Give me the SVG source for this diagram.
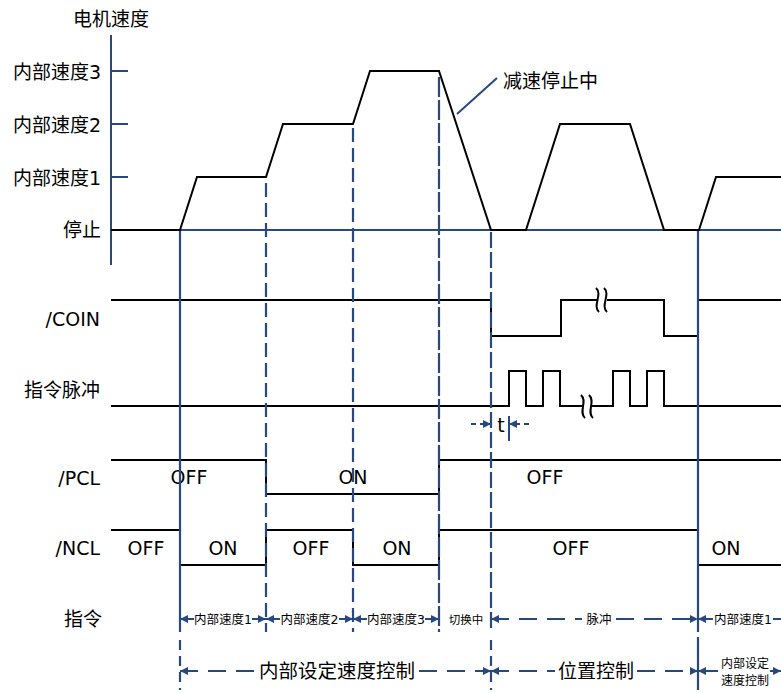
<svg xmlns="http://www.w3.org/2000/svg" width="781" height="693" viewBox="0 0 781 693">
<style>
.bg{fill:#ffffff}
.ax{stroke:#27497f;stroke-width:2;fill:none}
.sig{stroke:#000000;stroke-width:2;fill:none;stroke-linejoin:miter}
.vl{stroke:#27497f;stroke-width:2.2;fill:none}
.arr{stroke:#27497f;stroke-width:2;fill:none}
.lbl{font-family:"DejaVu Sans","Noto Sans CJK SC",sans-serif;font-size:19px;fill:#000000}
.cj{font-family:"Noto Sans CJK SC",sans-serif;font-size:19px;fill:#000000}
.sm{font-family:"DejaVu Sans","Noto Sans CJK SC",sans-serif;font-size:12.5px;fill:#000000}
</style>
<defs>
<marker id="ah" viewBox="0 0 8 8" refX="8" refY="4" markerWidth="8" markerHeight="8" markerUnits="userSpaceOnUse" orient="auto-start-reverse">
<path d="M0,0 L8,4 L0,8 z" fill="#27497f"/>
</marker>
</defs>
<rect class="bg" x="0" y="0" width="781" height="693"/>

<g id="axis">
<line class="ax" x1="111" y1="35" x2="111" y2="265"/>
<line class="ax" x1="111" y1="71" x2="128" y2="71"/>
<line class="ax" x1="111" y1="124" x2="128" y2="124"/>
<line class="ax" x1="111" y1="177" x2="128" y2="177"/>
<line class="ax" x1="111" y1="230" x2="781" y2="230"/>
<text class="cj" x="111" y="26" text-anchor="middle">电机速度</text>
<text class="lbl" x="101" y="79" text-anchor="end">内部速度3</text>
<text class="lbl" x="101" y="132" text-anchor="end">内部速度2</text>
<text class="lbl" x="101" y="185" text-anchor="end">内部速度1</text>
<text class="cj" x="101" y="237" text-anchor="end">停止</text>
</g>

<g id="speed-profile">
<path class="sig" d="M111,230 H180 L197,177 H266 L283,124 H353 L370,71 H439 L491,230 H526 L560,124 H630 L664,230 H699 L716,177 H781"/>
</g>

<g id="callout">
<line class="ax" x1="497" y1="78" x2="457" y2="114"/>
<text class="cj" x="503" y="88">减速停止中</text>
</g>

<g id="labels">
<text class="lbl" x="100" y="326" text-anchor="end">/COIN</text>
<text class="cj" x="100" y="397" text-anchor="end">指令脉冲</text>
<text class="lbl" x="100" y="485" text-anchor="end">/PCL</text>
<text class="lbl" x="100" y="555" text-anchor="end">/NCL</text>
<text class="cj" x="102" y="626" text-anchor="end">指令</text>
</g>

<g id="coin">
<path class="sig" d="M111,300 H491 V336 H561 V300 H597"/>
<path class="sig" d="M607,300 H664 V336 H698 V300 H781"/>
<path class="sig" d="M596,288 C603,294 592,306 599,312"/>
<path class="sig" d="M604,288 C611,294 600,306 607,312"/>
</g>

<g id="pulse">
<path class="sig" d="M111,406 H509 V371 H526 V406 H543 V371 H560 V406 H583"/>
<path class="sig" d="M592,406 H613 V371 H630 V406 H647 V371 H664 V406 H781"/>
<path class="sig" d="M581,395 C588,401 578,412 585,418"/>
<path class="sig" d="M589,395 C596,401 586,412 593,418"/>
</g>

<g id="pcl">
<path class="sig" d="M111,460 H266 V494 H439 V460 H781"/>
<text class="lbl" x="189" y="484" text-anchor="middle">OFF</text>
<text class="lbl" x="353" y="484" text-anchor="middle">ON</text>
<text class="lbl" x="545" y="484" text-anchor="middle">OFF</text>
</g>

<g id="ncl">
<path class="sig" d="M111,530 H180 V565 H266 V530 H353 V565 H439 V530 H698 V565 H781"/>
<text class="lbl" x="146" y="555" text-anchor="middle">OFF</text>
<text class="lbl" x="223" y="555" text-anchor="middle">ON</text>
<text class="lbl" x="311" y="555" text-anchor="middle">OFF</text>
<text class="lbl" x="397" y="555" text-anchor="middle">ON</text>
<text class="lbl" x="571" y="555" text-anchor="middle">OFF</text>
<text class="lbl" x="726" y="555" text-anchor="middle">ON</text>
</g>

<g id="connectors">
<line class="vl" x1="180" y1="231" x2="180" y2="632"/>
<line class="vl" x1="180" y1="640" x2="180" y2="690" stroke-dasharray="10 6"/>
<line class="vl" x1="266" y1="183" x2="266" y2="632" stroke-dasharray="14 6"/>
<line class="vl" x1="353" y1="128" x2="353" y2="632" stroke-dasharray="14 6"/>
<line class="vl" x1="439" y1="77" x2="439" y2="632" stroke-dasharray="20 3"/>
<line class="vl" x1="491" y1="232" x2="491" y2="632" stroke-dasharray="16 4"/>
<line class="vl" x1="491" y1="640" x2="491" y2="690" stroke-dasharray="10 6"/>
<line class="vl" x1="698" y1="231" x2="698" y2="632"/>
<line class="vl" x1="698" y1="637" x2="698" y2="690"/>
<line class="arr" x1="509" y1="416" x2="509" y2="441" stroke-width="1.5"/>
<line class="arr" x1="471" y1="424" x2="491" y2="424" stroke-dasharray="5 4" marker-end="url(#ah)"/>
<line class="arr" x1="529" y1="424" x2="509" y2="424" stroke-dasharray="5 4" marker-end="url(#ah)"/>

<line class="arr" x1="180" y1="619" x2="194" y2="619" marker-start="url(#ah)"/>
<line class="arr" x1="252" y1="619" x2="266" y2="619" marker-end="url(#ah)"/>
<line class="arr" x1="266" y1="619" x2="280" y2="619" marker-start="url(#ah)"/>
<line class="arr" x1="339" y1="619" x2="353" y2="619" marker-end="url(#ah)"/>
<line class="arr" x1="353" y1="619" x2="367" y2="619" marker-start="url(#ah)"/>
<line class="arr" x1="425" y1="619" x2="439" y2="619" marker-end="url(#ah)"/>
<line class="arr" x1="491" y1="619" x2="582" y2="619" stroke-dasharray="18 10" marker-start="url(#ah)"/>
<line class="arr" x1="616" y1="619" x2="698" y2="619" stroke-dasharray="18 10" marker-end="url(#ah)"/>
<line class="arr" x1="698" y1="619" x2="713" y2="619" marker-start="url(#ah)"/>
<line class="arr" x1="773" y1="619" x2="781" y2="619"/>

<line class="arr" x1="180" y1="671" x2="256" y2="671" stroke-dasharray="18 10" marker-start="url(#ah)"/>
<line class="arr" x1="419" y1="671" x2="491" y2="671" stroke-dasharray="18 10" marker-end="url(#ah)"/>
<line class="arr" x1="491" y1="671" x2="555" y2="671" stroke-dasharray="18 10" marker-start="url(#ah)"/>
<line class="arr" x1="637" y1="671" x2="698" y2="671" stroke-dasharray="18 10" marker-end="url(#ah)"/>
<line class="arr" x1="698" y1="671" x2="718" y2="671" marker-start="url(#ah)"/>
<line class="arr" x1="770" y1="671" x2="781" y2="671" marker-end="url(#ah)"/>
</g>

<g id="command-labels">
<text class="lbl" x="501" y="432" text-anchor="middle">t</text>
<text class="sm" x="223" y="624" text-anchor="middle">内部速度1</text>
<text class="sm" x="309.5" y="624" text-anchor="middle">内部速度2</text>
<text class="sm" x="396" y="624" text-anchor="middle">内部速度3</text>
<text class="sm" x="466" y="624" text-anchor="middle" style="font-size:11.5px">切换中</text>
<text class="sm" x="599" y="624" text-anchor="middle">脉冲</text>
<text class="sm" x="743" y="624" text-anchor="middle">内部速度1</text>
<text class="cj" x="337" y="678" text-anchor="middle" style="font-size:19.5px">内部设定速度控制</text>
<text class="cj" x="596" y="678" text-anchor="middle">位置控制</text>
<text class="sm" x="745" y="668" text-anchor="middle" style="font-size:12px">内部设定</text>
<text class="sm" x="745" y="685" text-anchor="middle" style="font-size:12px">速度控制</text>
</g>
</svg>
